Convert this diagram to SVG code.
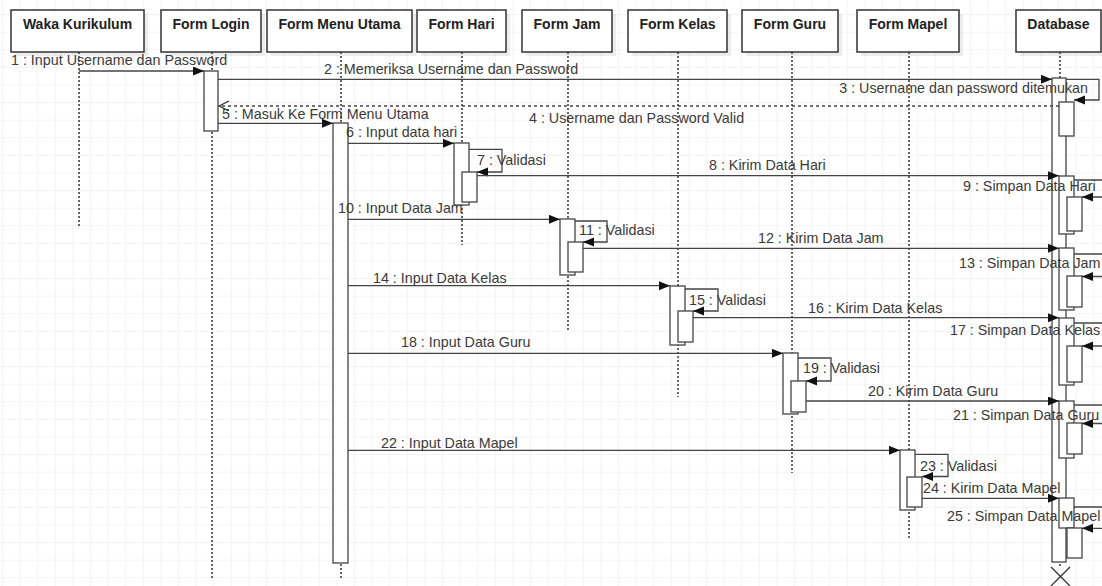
<svg xmlns="http://www.w3.org/2000/svg" width="1102" height="586" viewBox="0 0 1102 586">
<style>
.hdr{fill:#fff;stroke:#333;stroke-width:1.5}
.shd{fill:#000;opacity:0.07}
.ht{font-family:"Liberation Sans",Arial,sans-serif;font-size:14px;font-weight:bold;fill:#222;text-anchor:middle}
.life{stroke:#333;stroke-width:1.5;stroke-dasharray:2 2;fill:none}
.act{fill:#fff;stroke:#444;stroke-width:1.3}
.msg{stroke:#444;stroke-width:1.3;fill:none}
.ret{stroke:#444;stroke-width:1.3;fill:none;stroke-dasharray:3 3}
.lbl{font-family:"Liberation Sans",Arial,sans-serif;font-size:14.3px;fill:#3a3a3a}
</style>
<defs>
<pattern id="grid" patternUnits="userSpaceOnUse" x="3" y="15" width="17.6" height="17.6">
<path d="M17.6 0V17.6M0 17.6H17.6" stroke="#e8e8e8" stroke-width="1" fill="none"/>
</pattern>
<marker id="af" markerUnits="userSpaceOnUse" markerWidth="12" markerHeight="10" refX="11" refY="4.5" orient="auto">
<path d="M0 0L11 4.5L0 9z" fill="#111"/>
</marker>
<marker id="ao" markerUnits="userSpaceOnUse" markerWidth="12" markerHeight="12" refX="10" refY="5" orient="auto">
<path d="M0 0L10 5L0 10" fill="none" stroke="#333" stroke-width="1.2"/>
</marker>
</defs>
<rect width="1102" height="586" fill="#fff"/>
<rect width="1102" height="586" fill="url(#grid)"/>

<g id="waka">
<rect class="shd" x="15" y="14" width="133" height="42"/>
<rect class="hdr" x="11" y="10" width="133" height="42"/>
<text class="ht" x="77.5" y="29">Waka Kurikulum</text>
<line class="life" x1="79" y1="52" x2="79" y2="228"/>
</g>
<g id="form-login">
<rect class="shd" x="165" y="14" width="100" height="42"/>
<rect class="hdr" x="161" y="10" width="100" height="42"/>
<text class="ht" x="211" y="29">Form Login</text>
<line class="life" x1="212" y1="52" x2="212" y2="578"/>
<rect class="act" x="204" y="71" width="14" height="60"/>
</g>
<g id="form-menu-utama">
<rect class="shd" x="271" y="14" width="145" height="42"/>
<rect class="hdr" x="267" y="10" width="145" height="42"/>
<text class="ht" x="339.5" y="29">Form Menu Utama</text>
<line class="life" x1="341" y1="52" x2="341" y2="578"/>
<rect class="act" x="333" y="123" width="15" height="440"/>
</g>
<g id="form-hari">
<rect class="shd" x="421" y="14" width="89" height="42"/>
<rect class="hdr" x="417" y="10" width="89" height="42"/>
<text class="ht" x="461.5" y="29">Form Hari</text>
<line class="life" x1="462" y1="52" x2="462" y2="245"/>
<rect class="act" x="454" y="143" width="15" height="62"/>
<rect class="act" x="462" y="172" width="15" height="30"/>
</g>
<g id="form-jam">
<rect class="shd" x="526" y="14" width="90" height="42"/>
<rect class="hdr" x="522" y="10" width="90" height="42"/>
<text class="ht" x="567" y="29">Form Jam</text>
<line class="life" x1="568" y1="52" x2="568" y2="330"/>
<rect class="act" x="560" y="219" width="15" height="56"/>
<rect class="act" x="568" y="242" width="15" height="30"/>
</g>
<g id="form-kelas">
<rect class="shd" x="632" y="14" width="99" height="42"/>
<rect class="hdr" x="628" y="10" width="99" height="42"/>
<text class="ht" x="677.5" y="29">Form Kelas</text>
<line class="life" x1="678" y1="52" x2="678" y2="397"/>
<rect class="act" x="670" y="286" width="15" height="59"/>
<rect class="act" x="678" y="311" width="15" height="31"/>
</g>
<g id="form-guru">
<rect class="shd" x="746" y="14" width="96" height="42"/>
<rect class="hdr" x="742" y="10" width="96" height="42"/>
<text class="ht" x="790" y="29">Form Guru</text>
<line class="life" x1="792" y1="52" x2="792" y2="473"/>
<rect class="act" x="783" y="353" width="15" height="61"/>
<rect class="act" x="791" y="381" width="15" height="31"/>
</g>
<g id="form-mapel">
<rect class="shd" x="861" y="14" width="102" height="42"/>
<rect class="hdr" x="857" y="10" width="102" height="42"/>
<text class="ht" x="908" y="29">Form Mapel</text>
<line class="life" x1="909" y1="52" x2="909" y2="540"/>
<rect class="act" x="900" y="450" width="15" height="60"/>
<rect class="act" x="907" y="477" width="15" height="30"/>
</g>
<g id="database">
<rect class="shd" x="1020" y="14" width="85" height="42"/>
<rect class="hdr" x="1016" y="10" width="85" height="42"/>
<text class="ht" x="1058.5" y="29">Database</text>
<line class="life" x1="1060" y1="52" x2="1060" y2="568"/>
<rect class="act" x="1052" y="78" width="14" height="484"/>
<rect class="act" x="1059" y="102" width="15" height="34"/>
<rect class="act" x="1059" y="176" width="15" height="58"/>
<rect class="act" x="1067" y="197" width="15" height="34"/>
<rect class="act" x="1059" y="248" width="15" height="62"/>
<rect class="act" x="1067" y="276" width="15" height="31"/>
<rect class="act" x="1059" y="318" width="15" height="67"/>
<rect class="act" x="1067" y="346" width="15" height="36"/>
<rect class="act" x="1059" y="401" width="15" height="57"/>
<rect class="act" x="1067" y="423" width="15" height="31"/>
<rect class="act" x="1059" y="498" width="15" height="30"/>
<rect class="act" x="1067" y="528" width="15" height="30"/>
<path d="M1051 567L1070 586M1070 567L1051 586" stroke="#333" stroke-width="1.3"/>
</g>

<g id="connectors">
<line class="msg" x1="79" y1="71" x2="204" y2="71" marker-end="url(#af)"/>
<line class="msg" x1="218" y1="79.3" x2="1052" y2="79.3" marker-end="url(#af)"/>
<path class="msg" d="M1066 79.3H1099V100H1074" marker-end="url(#af)"/>
<line class="ret" x1="1059" y1="106" x2="219" y2="106" marker-end="url(#ao)"/>
<line class="msg" x1="218" y1="123.3" x2="333" y2="123.3" marker-end="url(#af)"/>
<line class="msg" x1="348" y1="143.3" x2="454" y2="143.3" marker-end="url(#af)"/>
<path class="msg" d="M469 149.3H502V172H477" marker-end="url(#af)"/>
<line class="msg" x1="477" y1="175.7" x2="1059" y2="175.7" marker-end="url(#af)"/>
<path class="msg" d="M1074 180H1110V197H1082" marker-end="url(#af)"/>
<line class="msg" x1="348" y1="219.3" x2="560" y2="219.3" marker-end="url(#af)"/>
<path class="msg" d="M575 221H607V242H583" marker-end="url(#af)"/>
<line class="msg" x1="583" y1="248.3" x2="1059" y2="248.3" marker-end="url(#af)"/>
<path class="msg" d="M1074 254H1110V276.5H1082" marker-end="url(#af)"/>
<line class="msg" x1="348" y1="285.7" x2="670" y2="285.7" marker-end="url(#af)"/>
<path class="msg" d="M685 289H718V311H693" marker-end="url(#af)"/>
<line class="msg" x1="693" y1="317.7" x2="1059" y2="317.7" marker-end="url(#af)"/>
<path class="msg" d="M1074 323H1110V346H1082" marker-end="url(#af)"/>
<line class="msg" x1="348" y1="353.3" x2="783" y2="353.3" marker-end="url(#af)"/>
<path class="msg" d="M798 358H831V381H806" marker-end="url(#af)"/>
<line class="msg" x1="806" y1="401" x2="1059" y2="401" marker-end="url(#af)"/>
<path class="msg" d="M1074 405H1110V423.5H1082" marker-end="url(#af)"/>
<line class="msg" x1="348" y1="450.3" x2="900" y2="450.3" marker-end="url(#af)"/>
<path class="msg" d="M915 454.3H948V476.5H922" marker-end="url(#af)"/>
<line class="msg" x1="922" y1="498.3" x2="1059" y2="498.3" marker-end="url(#af)"/>
<path class="msg" d="M1074 507H1110V528.3H1082" marker-end="url(#af)"/>
</g>

<g id="labels">
<text class="lbl" x="11" y="65">1 : Input Username dan Password</text>
<text class="lbl" x="324" y="74">2 : Memeriksa Username dan Password</text>
<text class="lbl" x="1088" y="93" text-anchor="end">3 : Username dan password ditemukan</text>
<text class="lbl" x="529" y="123">4 : Username dan Password Valid</text>
<text class="lbl" x="222" y="119">5 : Masuk Ke Form Menu Utama</text>
<text class="lbl" x="346" y="137">6 : Input data hari</text>
<text class="lbl" x="477" y="165">7 : Validasi</text>
<text class="lbl" x="709" y="170">8 : Kirim Data Hari</text>
<text class="lbl" x="963" y="191">9 : Simpan Data Hari</text>
<text class="lbl" x="338" y="213">10 : Input Data Jam</text>
<text class="lbl" x="579" y="235">11 : Validasi</text>
<text class="lbl" x="758" y="243">12 : Kirim Data Jam</text>
<text class="lbl" x="959" y="268">13 : Simpan Data Jam</text>
<text class="lbl" x="373" y="283">14 : Input Data Kelas</text>
<text class="lbl" x="689" y="305">15 : Validasi</text>
<text class="lbl" x="808" y="313">16 : Kirim Data Kelas</text>
<text class="lbl" x="950" y="335">17 : Simpan Data Kelas</text>
<text class="lbl" x="401" y="347">18 : Input Data Guru</text>
<text class="lbl" x="803" y="373">19 : Validasi</text>
<text class="lbl" x="868" y="396">20 : Kirim Data Guru</text>
<text class="lbl" x="953" y="420">21 : Simpan Data Guru</text>
<text class="lbl" x="381" y="448">22 : Input Data Mapel</text>
<text class="lbl" x="920" y="471">23 : Validasi</text>
<text class="lbl" x="923" y="493">24 : Kirim Data Mapel</text>
<text class="lbl" x="947" y="521">25 : Simpan Data Mapel</text>
</g>
</svg>
